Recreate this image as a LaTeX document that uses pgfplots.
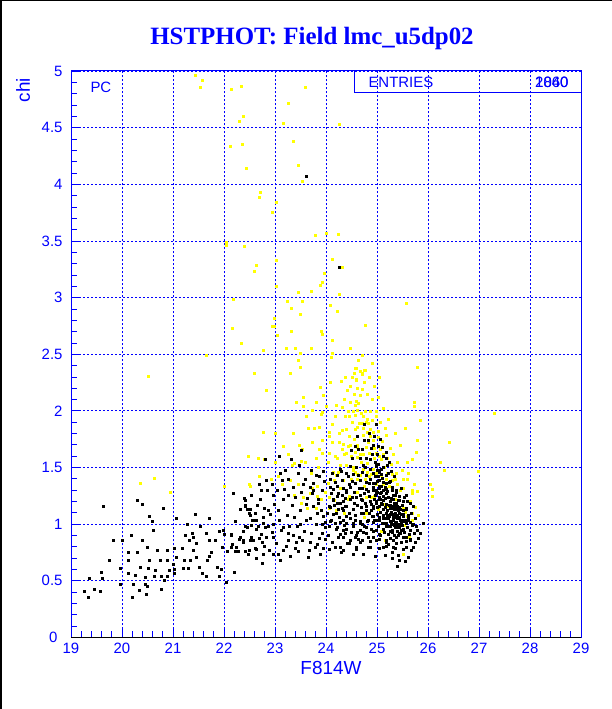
\documentclass[border=0pt]{standalone}
\usepackage{pgfplots}
\usepackage{pgfplotstable}
\pgfplotsset{compat=1.18}
\usepackage{fontspec}
\setmainfont{Liberation Serif}
\setsansfont{Liberation Sans}
\definecolor{hblue}{RGB}{0,0,255}
\definecolor{hyel}{RGB}{255,255,0}

\pgfplotstableread{
x y
19.63 1.16
20.30 1.21
20.39 1.18
20.80 1.14
20.54 1.07
20.59 1.03
21.06 1.05
21.43 1.09
21.53 0.98
21.71 1.05
22.17 1.27
22.21 1.03
20.61 0.95
19.83 0.86
20.00 0.86
20.17 0.90
20.39 0.86
20.50 0.80
20.68 0.77
20.13 0.75
20.29 0.75
20.88 0.77
19.75 0.68
20.13 0.68
20.54 0.68
20.75 0.68
20.89 0.68
20.35 0.62
20.51 0.61
20.65 0.59
20.92 0.59
19.59 0.58
19.96 0.61
20.13 0.57
20.25 0.55
20.46 0.53
20.64 0.54
20.76 0.54
20.82 0.51
20.88 0.54
19.62 0.52
19.35 0.52
19.96 0.47
20.21 0.47
20.50 0.45
20.45 0.47
19.45 0.43
19.58 0.41
19.25 0.41
19.33 0.36
20.20 0.36
20.48 0.38
20.33 0.42
20.76 0.43
21.02 0.79
21.07 0.71
21.01 0.65
21.03 0.60
21.02 0.57
21.18 0.79
21.23 0.90
21.27 1.00
21.32 0.86
21.37 0.92
21.40 0.89
21.46 0.83
21.39 0.77
21.22 0.68
21.33 0.68
21.29 0.61
21.20 0.61
21.45 0.71
21.52 0.62
21.57 0.57
21.65 0.54
21.66 0.68
21.70 0.72
21.74 0.75
21.65 0.92
21.71 0.86
21.82 0.86
21.86 0.62
21.91 0.54
21.95 0.60
21.96 0.80
21.99 0.95
22.01 0.91
21.90 0.94
22.05 0.49
22.20 0.58
22.14 0.80
22.06 0.76
22.25 0.76
22.37 0.84
22.42 0.76
22.48 0.74
22.63 0.70
22.61 0.79
22.45 0.97
22.38 0.94
22.51 0.86
22.64 0.96
22.14 0.90
22.30 0.87
22.42 1.21
22.42 1.17
22.51 1.08
22.56 1.04
22.54 1.26
22.46 1.13
22.65 1.17
22.61 1.04
22.16 0.82
22.22 0.76
22.37 0.86
22.54 0.89
22.63 0.78
22.74 0.84
22.83 0.89
22.87 0.98
22.76 1.01
22.53 0.99
22.63 1.04
22.52 1.13
22.31 1.13
22.18 1.27
22.40 1.23
22.42 1.16
22.50 1.10
22.42 0.98
22.31 0.89
22.24 0.80
22.27 0.76
22.14 0.91
22.50 0.77
22.58 0.86
22.69 1.35
22.83 1.39
23.14 1.39
23.26 1.26
23.16 1.22
22.97 1.26
22.78 1.14
22.87 1.12
22.76 1.06
22.66 0.98
22.73 0.91
22.96 1.00
23.09 1.04
23.16 0.97
23.26 0.92
23.37 1.06
23.50 1.00
23.61 1.04
23.75 1.16
23.84 1.19
23.64 1.23
23.72 1.27
23.92 1.30
23.82 1.10
23.95 1.07
23.93 1.00
23.98 0.97
23.99 0.87
23.82 0.82
23.68 0.84
23.47 0.89
23.42 0.84
23.39 0.79
23.26 0.86
23.16 0.77
23.07 0.74
22.96 0.89
22.79 0.81
22.76 0.74
22.96 0.74
23.67 0.77
23.88 0.74
24.07 0.78
23.92 0.92
24.07 0.98
24.11 1.04
24.20 1.10
24.07 1.16
24.14 1.22
24.24 1.27
24.27 1.19
24.37 1.16
24.46 1.10
24.40 1.01
24.37 0.92
24.23 0.89
24.18 0.80
24.33 0.77
24.46 0.83
24.57 0.89
24.62 0.93
24.67 1.01
24.74 0.98
24.83 1.04
24.84 1.10
24.92 1.16
24.99 1.19
25.07 1.22
24.99 1.27
24.96 1.36
25.04 1.39
25.01 1.48
24.99 1.52
25.09 1.49
25.17 1.36
25.12 1.30
24.92 1.30
24.82 1.29
24.65 1.32
24.59 1.24
24.69 1.22
24.79 1.16
24.86 1.20
24.90 1.07
24.99 1.04
25.12 1.01
25.22 0.98
25.31 1.04
25.38 0.98
25.48 0.95
25.51 1.04
25.61 1.04
25.77 0.98
25.84 0.92
25.90 1.01
25.51 0.89
25.64 0.86
25.38 0.89
25.18 0.86
24.99 0.95
24.83 0.89
24.71 0.86
24.59 0.80
24.53 0.74
24.73 0.74
25.12 0.80
25.31 0.80
24.86 0.80
23.31 1.57
23.51 1.65
23.09 1.60
23.81 1.43
23.68 1.33
23.75 1.36
23.45 1.45
23.20 1.48
23.60 1.40
23.95 1.47
23.35 1.33
23.05 1.30
22.80 1.57
24.27 1.49
24.47 1.51
24.60 1.50
24.73 1.52
24.86 1.49
24.99 1.51
25.05 1.48
25.12 1.50
24.12 1.45
24.21 1.43
24.40 1.45
24.44 1.42
24.53 1.44
24.70 1.46
24.79 1.43
24.92 1.45
25.03 1.42
25.05 1.46
25.09 1.44
25.17 1.43
25.22 1.45
24.18 1.37
24.31 1.39
24.51 1.38
24.58 1.36
24.66 1.39
24.79 1.37
24.87 1.40
24.92 1.36
25.00 1.38
25.05 1.39
25.12 1.37
25.25 1.38
24.08 1.33
24.14 1.31
24.34 1.32
24.39 1.30
24.48 1.33
24.78 1.31
24.92 1.33
24.99 1.30
25.04 1.32
25.08 1.34
25.18 1.31
25.29 1.33
25.38 1.30
25.47 1.32
24.10 1.27
24.21 1.25
24.31 1.26
24.40 1.28
24.51 1.24
24.66 1.26
24.75 1.27
24.84 1.25
24.96 1.26
25.01 1.28
25.04 1.24
25.06 1.27
25.12 1.25
25.18 1.27
25.22 1.24
25.31 1.26
25.38 1.28
25.44 1.25
25.57 1.26
24.14 1.21
24.21 1.19
24.34 1.20
24.47 1.22
24.56 1.19
24.70 1.21
24.88 1.18
24.99 1.20
25.05 1.22
25.09 1.19
25.12 1.21
25.18 1.18
25.25 1.20
25.31 1.22
25.38 1.19
25.44 1.21
25.51 1.20
25.64 1.19
24.08 1.15
24.23 1.13
24.31 1.14
24.40 1.16
24.53 1.13
24.68 1.15
24.79 1.12
24.92 1.14
25.05 1.16
25.12 1.13
25.16 1.15
25.19 1.12
25.25 1.14
25.31 1.16
25.38 1.13
25.44 1.15
25.51 1.12
25.57 1.14
24.14 1.09
24.40 1.07
24.57 1.08
24.73 1.10
24.92 1.07
25.00 1.09
25.05 1.06
25.12 1.08
25.18 1.10
25.23 1.07
25.27 1.09
25.31 1.06
25.38 1.08
25.44 1.10
25.51 1.07
25.61 1.08
24.08 1.03
24.17 1.01
24.27 1.02
24.34 1.04
24.53 1.01
24.66 1.03
24.70 1.00
24.92 1.02
25.05 1.04
25.18 1.01
25.25 1.03
25.29 1.00
25.31 1.04
25.38 1.02
25.44 1.00
25.51 1.03
25.57 1.01
25.64 1.02
25.70 1.00
24.21 0.97
24.34 0.95
24.40 0.96
24.53 0.98
24.66 0.95
24.78 0.97
24.92 0.94
25.12 0.96
25.25 0.98
25.29 0.95
25.35 0.97
25.40 0.94
25.51 0.96
25.64 0.95
24.27 0.91
24.34 0.89
24.60 0.90
24.79 0.92
24.92 0.89
25.05 0.91
25.25 0.88
25.42 0.90
25.44 0.92
25.57 0.89
24.47 0.86
24.66 0.84
24.86 0.85
25.05 0.87
25.18 0.84
25.31 0.86
25.38 0.83
25.57 0.85
25.64 0.87
25.74 0.84
24.27 0.80
24.60 0.78
25.05 0.79
25.18 0.81
25.51 0.78
25.57 0.80
24.96 0.72
25.29 0.70
25.42 0.73
25.44 0.68
25.62 0.71
25.22 1.05
25.28 1.11
25.33 0.99
25.36 1.06
25.41 1.12
25.46 1.04
25.24 0.98
25.30 0.93
25.38 1.16
25.26 1.17
25.34 1.13
25.43 0.97
25.48 1.09
25.20 1.12
25.15 1.05
25.10 1.01
25.35 1.01
25.27 1.03
25.40 1.05
25.32 1.09
24.74 1.74
24.82 1.74
24.58 1.69
24.64 1.66
24.92 1.70
25.03 1.69
25.00 1.62
24.78 1.58
24.66 1.58
24.86 1.57
24.96 1.55
25.17 1.58
25.23 1.55
25.03 1.53
24.25 3.27
23.62 4.07
22.62 1.10
22.68 0.88
22.71 1.22
22.74 0.66
22.81 0.97
22.85 1.30
22.88 0.77
22.91 1.09
22.94 0.93
22.99 1.18
23.03 0.83
23.06 1.12
23.11 0.68
23.13 0.95
23.18 1.31
23.21 0.81
23.23 1.08
23.28 0.98
23.30 0.72
23.33 1.17
23.36 0.90
23.40 1.24
23.43 0.98
23.46 0.76
23.49 1.12
23.53 0.86
23.55 1.35
23.58 0.94
23.62 1.18
23.65 0.71
23.69 1.05
23.71 0.92
23.74 1.30
23.78 0.80
23.80 1.00
23.85 1.22
23.87 0.88
23.90 1.12
23.94 0.79
23.97 1.38
23.99 1.02
23.10 1.45
23.48 1.52
23.70 1.48
22.95 1.35
23.25 1.40
23.52 1.28
23.86 1.42
22.73 1.30
24.02 1.10
24.05 0.90
24.09 1.40
24.12 0.84
24.16 1.17
24.19 0.96
24.22 1.34
24.25 1.06
24.29 0.75
24.30 1.47
24.33 1.12
24.36 0.99
24.38 1.23
24.42 0.83
24.45 1.35
24.48 1.05
24.50 0.93
24.52 1.58
24.55 1.28
24.58 1.04
24.61 1.17
24.63 0.87
24.64 1.43
24.68 1.10
24.71 1.32
24.72 0.93
24.76 1.19
24.77 1.50
24.80 1.03
24.82 0.80
24.85 1.36
24.88 1.12
24.89 0.96
24.91 1.62
24.94 1.22
24.95 1.04
24.97 1.42
24.98 0.86
24.50 1.65
24.70 1.66
24.88 1.67
24.84 1.80
24.95 1.78
25.06 1.75
24.75 1.88
24.98 1.88
25.10 1.68
24.62 1.78
25.01 1.15
25.02 0.98
25.04 1.34
25.06 1.11
25.07 0.90
25.08 1.28
25.10 1.18
25.11 1.41
25.13 1.05
25.14 0.93
25.15 1.23
25.16 1.33
25.17 0.98
25.19 1.08
25.20 1.29
25.21 0.91
25.23 1.17
25.24 1.37
25.25 1.09
25.26 0.94
25.27 1.23
25.28 1.00
25.29 1.14
25.30 1.30
25.32 1.05
25.33 1.19
25.34 0.90
25.35 1.10
25.36 1.26
25.37 0.97
25.39 1.08
25.40 1.16
25.41 0.99
25.42 1.21
25.43 1.06
25.45 0.92
25.46 1.13
25.47 1.01
25.49 1.17
25.50 0.99
25.52 1.09
25.53 0.93
25.54 1.24
25.55 1.04
25.58 1.13
25.59 0.97
25.60 1.20
25.62 1.06
25.63 0.91
25.66 1.10
25.68 0.99
25.70 1.16
25.72 0.92
25.75 1.05
25.78 0.95
25.80 0.88
25.22 0.82
25.36 0.79
25.48 0.84
25.66 0.77
25.30 0.75
25.55 0.67
25.15 0.73
25.40 0.63
25.70 0.80
25.12 1.60
25.20 1.52
25.28 1.47
25.33 1.42
25.18 1.64
}\blackdata

\pgfplotstableread{
x y
21.43 4.96
21.58 4.92
21.54 4.86
22.14 4.84
22.33 4.87
23.60 4.86
23.25 4.72
22.37 4.60
22.29 4.56
23.15 4.54
24.25 4.53
23.35 4.38
22.13 4.34
22.35 4.35
23.46 4.17
22.43 4.14
23.53 4.03
22.71 3.93
22.68 3.89
23.02 3.84
22.94 3.75
22.05 3.49
22.05 3.46
22.39 3.45
23.78 3.55
24.00 3.57
24.24 3.56
24.13 3.34
24.31 3.27
23.02 3.33
22.64 3.29
22.59 3.23
23.97 3.22
23.92 3.14
23.88 3.11
23.02 3.10
23.46 3.05
23.70 3.06
24.25 3.03
22.17 2.99
23.23 2.97
23.53 2.97
23.31 2.91
24.09 2.93
24.21 2.88
23.50 2.85
25.58 2.95
22.98 2.82
22.94 2.75
22.99 2.75
22.16 2.73
24.76 2.76
23.31 2.70
23.90 2.70
23.92 2.68
23.05 2.67
24.13 2.62
22.33 2.60
22.76 2.54
23.22 2.55
23.39 2.55
23.70 2.55
23.49 2.51
24.13 2.51
21.65 2.49
24.71 2.49
23.45 2.45
24.10 2.47
24.59 2.38
23.49 2.39
24.76 2.36
22.59 2.33
23.29 2.33
24.56 2.33
24.71 2.32
25.78 2.39
24.59 2.27
24.09 2.25
24.29 2.26
25.84 1.92
27.29 1.98
26.41 1.72
26.24 1.55
26.31 1.48
26.99 1.47
26.04 1.35
26.08 1.31
26.09 1.25
20.35 1.36
20.64 1.41
20.95 1.28
22.00 1.34
22.52 1.34
22.48 1.60
20.51 2.31
22.82 2.18
24.08 2.25
23.89 2.21
23.95 2.14
24.00 2.04
23.56 2.12
23.56 2.04
23.41 2.08
23.73 2.01
23.90 1.97
23.93 1.99
23.77 1.85
23.86 1.86
23.65 1.85
22.76 1.81
24.06 1.81
24.07 1.78
23.01 1.80
23.16 1.69
23.48 1.70
23.54 1.66
23.93 1.74
23.86 1.66
23.93 1.63
22.48 1.60
22.79 1.57
22.67 1.58
23.08 1.60
23.00 1.55
23.52 1.56
23.60 1.55
24.07 1.63
24.05 1.55
23.33 1.52
23.38 1.54
23.84 1.50
24.14 1.46
24.23 1.46
24.19 1.43
24.57 1.46
24.62 1.44
24.67 1.43
24.61 1.40
24.49 1.40
24.33 1.39
24.80 1.46
24.76 1.40
24.84 1.42
24.88 1.44
24.99 1.45
25.09 1.43
25.20 1.45
25.30 1.44
25.18 1.40
25.29 1.39
25.35 1.40
25.38 1.45
25.52 1.40
25.60 1.40
22.69 1.42
22.50 1.35
22.93 1.40
23.07 1.42
23.30 1.39
23.14 1.35
23.73 1.32
23.82 1.34
24.05 1.36
24.15 1.39
24.74 1.34
24.99 1.35
25.08 1.34
25.13 1.35
25.18 1.32
25.24 1.34
25.29 1.32
25.52 1.32
25.68 1.27
25.69 1.30
25.78 1.29
23.38 1.26
23.56 1.24
23.68 1.27
23.82 1.25
23.90 1.22
24.07 1.24
24.15 1.21
24.44 1.22
24.70 1.22
24.78 1.24
24.88 1.24
24.92 1.15
25.03 1.13
25.16 1.18
25.22 1.16
25.35 1.22
25.51 1.20
25.51 1.14
25.56 1.11
25.68 1.10
25.60 1.07
23.51 1.19
23.64 1.14
23.81 1.14
24.06 1.14
24.19 1.12
24.35 1.10
24.75 1.06
24.79 1.10
25.69 1.04
25.54 0.99
25.63 0.89
25.52 0.74
25.09 0.94
25.16 0.86
24.54 1.50
24.73 1.49
24.58 2.38
24.75 2.36
24.56 2.33
24.70 2.33
24.30 2.26
24.60 2.28
24.70 2.19
24.67 2.14
24.35 2.10
24.47 2.08
24.60 2.09
24.64 2.07
24.57 2.05
24.32 2.03
24.44 2.00
24.53 2.00
24.61 2.01
24.77 2.00
24.86 2.00
24.99 2.00
25.13 2.02
25.73 2.08
25.73 2.04
24.17 1.95
24.45 1.95
24.57 1.96
24.73 1.95
24.81 1.93
25.21 1.93
24.65 1.89
24.70 1.89
24.62 1.86
24.83 1.89
24.73 1.85
24.40 1.84
24.57 1.84
24.87 1.84
24.32 1.83
24.81 1.81
24.92 1.81
25.03 1.82
24.87 1.78
25.17 1.79
25.10 1.73
24.61 1.70
24.47 1.70
24.34 1.71
25.79 1.74
24.13 1.72
24.25 1.72
24.44 1.69
24.62 1.68
24.79 1.68
25.06 1.66
25.25 1.67
24.31 1.66
24.40 1.63
24.73 1.62
24.99 1.63
25.12 1.62
25.77 1.64
25.69 1.57
24.22 1.58
24.62 1.59
24.95 1.58
24.68 1.55
24.81 1.54
25.09 1.57
25.27 1.53
24.40 1.52
24.92 1.49
24.53 1.48
25.14 1.50
24.48 2.22
24.52 2.30
24.62 2.20
24.66 2.35
24.74 2.25
24.80 2.15
24.85 2.30
24.90 2.10
24.95 2.22
25.02 2.12
24.55 2.15
24.42 2.18
24.38 1.95
24.52 1.90
24.68 1.98
24.78 1.90
24.90 1.92
24.98 1.95
25.06 1.90
25.15 1.85
24.45 1.78
24.55 1.75
24.72 1.79
24.83 1.72
24.93 1.74
25.02 1.77
24.36 1.62
24.50 1.60
24.58 1.64
24.66 1.62
24.85 1.63
24.94 1.67
25.05 1.60
25.20 1.58
25.32 1.62
25.40 1.55
25.45 1.70
25.55 1.85
25.35 1.80
25.50 1.48
25.62 1.45
25.72 1.35
25.45 1.30
25.65 1.20
25.74 1.15
25.80 1.08
24.28 1.52
24.18 1.60
24.25 1.80
24.12 1.88
24.20 2.05
24.38 2.30
23.80 1.58
23.72 1.72
23.62 1.95
23.80 2.08
23.35 1.80
23.25 1.62
23.70 1.45
23.45 1.35
23.98 1.28
24.28 1.32
24.45 1.25
24.62 1.28
24.95 1.25
25.40 1.35
25.60 1.55
25.05 2.30
24.64 2.45
24.48 2.55
24.90 2.42
}\yellowdata

\begin{document}
\begin{tikzpicture}[x=1bp,y=1bp]
\useasboundingbox (0,0) rectangle (612,709);
\fill[white] (0,0) rectangle (612,709);
\begin{axis}[
  at={(71bp,71.5bp)}, anchor=south west,
  scale only axis, width=510bp, height=566.5bp,
  xmin=19, xmax=29, ymin=0, ymax=5,
  xtick={19,20,21,22,23,24,25,26,27,28,29},
  ytick={0,0.5,1,1.5,2,2.5,3,3.5,4,4.5,5},
  yticklabels={0\hspace*{5bp},0.5,1,1.5,2,2.5,3,3.5,4,4.5,5},
  minor tick num=4,
  tick pos=left, tick align=inside,
  major tick length=10bp, minor tick length=6bp,
  tick style={hblue, line width=0.8bp},
  grid=major,
  major grid style={hblue, line width=0.8bp, dash pattern=on 2bp off 2bp},
  axis line style={hblue, line width=1bp},
  tick label style={font=\sffamily\fontsize{15}{18}\selectfont, text=hblue},
  xticklabel style={yshift=-2bp},
  yticklabel style={xshift=-5bp},
  /pgf/number format/assume math mode=true,
]
\addplot[only marks, mark=square*, mark size=1bp, color=hyel, mark options={line width=0.3bp}] table[x=x,y=y] {\yellowdata};
\addplot[only marks, mark=square*, mark size=1bp, color=black, mark options={line width=0.3bp}] table[x=x,y=y] {\blackdata};
\draw[black, line width=1.2bp] (axis cs:19,0) -- (axis cs:29,0);
\end{axis}
% outer frame (top and left)
\draw[black, line width=2bp] (1,0) -- (1,709);
\draw[black, line width=1.5bp] (0,708.25) -- (612,708.25);
% title
\node[text=hblue, font=\bfseries\fontsize{25}{29}\selectfont] at (312,670) {HSTPHOT: Field lmc\_u5dp02};
% axis titles
\node[text=hblue, font=\sffamily\fontsize{19}{22}\selectfont] at (331,41) {F814W};
\node[text=hblue, font=\sffamily\fontsize{19}{22}\selectfont, rotate=90] at (23,619) {chi};
% PC label
\node[text=hblue, font=\sffamily\fontsize{15}{18}\selectfont, anchor=west] at (87,622) {PC};
% stats box
\draw[hblue, line width=1bp] (354,638) rectangle (581,616);
\node[text=hblue, font=\sffamily\fontsize{15}{18}\selectfont, anchor=west] at (365,627) {ENTRIES};
\node[text=hblue, font=\sffamily\fontsize{15}{18}\selectfont, anchor=east] at (572,627) {1860};
\node[text=hblue, font=\sffamily\fontsize{15}{18}\selectfont, anchor=east] at (572,627) {2040};
\end{tikzpicture}
\end{document}
